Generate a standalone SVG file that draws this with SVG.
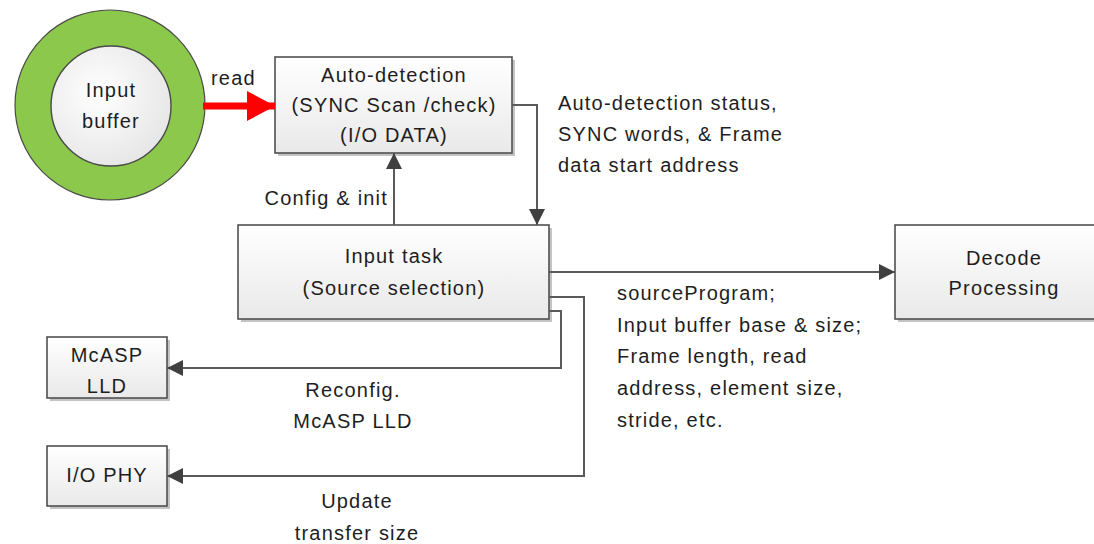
<svg xmlns="http://www.w3.org/2000/svg" width="1094" height="544" viewBox="0 0 1094 544">
<defs>
<linearGradient id="boxg" x1="0" y1="0" x2="0" y2="1">
<stop offset="0" stop-color="#ffffff"/>
<stop offset="1" stop-color="#e9e9e9"/>
</linearGradient>
<radialGradient id="inner" cx="0.4" cy="0.4" r="0.7">
<stop offset="0" stop-color="#ffffff"/>
<stop offset="1" stop-color="#e4e4e4"/>
</radialGradient>
<marker id="ah" markerWidth="16" markerHeight="16" viewBox="0 0 16 16" refX="16" refY="8" orient="auto" markerUnits="userSpaceOnUse">
<path d="M0,0 L16,8 L0,16 Z" fill="#404040"/>
</marker>
<marker id="ahr" markerWidth="28" markerHeight="30" viewBox="0 0 28 30" refX="28" refY="15" orient="auto" markerUnits="userSpaceOnUse">
<path d="M0,0 L28,15 L0,30 Z" fill="#ff0000"/>
</marker>
</defs>
<style>
.t{font-family:"Liberation Sans",Arial,sans-serif;font-size:20px;fill:#1e1e1e;letter-spacing:1.2px}
.c{text-anchor:middle}
.box{fill:url(#boxg);stroke:#505050;stroke-width:1.6}
.sh{fill:#c4c4c4}
.ln{fill:none;stroke:#5a5a5a;stroke-width:2}
</style>
<rect width="1094" height="544" fill="#ffffff"/>

<g id="input-buffer">
<circle cx="110" cy="105" r="95" fill="#8cc84b" stroke="#4a4a4a" stroke-width="1.2"/>
<circle cx="111" cy="106" r="60" fill="url(#inner)" stroke="#4a4a4a" stroke-width="1.4"/>
<text class="t c" x="111" y="97">Input</text>
<text class="t c" x="111" y="128">buffer</text>
</g>

<g id="auto-detection">
<rect class="sh" x="278" y="60" width="237" height="96"/>
<rect class="box" x="275" y="57" width="237" height="96"/>
<text class="t c" x="394" y="82">Auto-detection</text>
<text class="t c" x="394" y="112">(SYNC Scan /check)</text>
<text class="t c" x="394" y="142">(I/O DATA)</text>
</g>

<g id="input-task">
<rect class="sh" x="241" y="228" width="311" height="94"/>
<rect class="box" x="238" y="225" width="311" height="94"/>
<text class="t c" x="394" y="263">Input task</text>
<text class="t c" x="394" y="295">(Source selection)</text>
</g>

<g id="decode">
<rect class="sh" x="898" y="228" width="220" height="94"/>
<rect class="box" x="895" y="225" width="220" height="94"/>
<text class="t c" x="1004" y="265">Decode</text>
<text class="t c" x="1004" y="295">Processing</text>
</g>

<g id="mcasp">
<rect class="sh" x="50" y="340" width="120" height="61"/>
<rect class="box" x="47" y="337" width="120" height="61"/>
<text class="t c" x="107" y="362">McASP</text>
<text class="t c" x="107" y="393">LLD</text>
</g>

<g id="io-phy">
<rect class="sh" x="50" y="449" width="120" height="60"/>
<rect class="box" x="47" y="446" width="120" height="60"/>
<text class="t c" x="107" y="482">I/O PHY</text>
</g>

<g id="connectors">
<line x1="203" y1="106" x2="275" y2="106" stroke="#ff0000" stroke-width="7" marker-end="url(#ahr)"/>
<path class="ln" d="M512,105 H537 V225" marker-end="url(#ah)"/>
<path class="ln" d="M394,225 V153" marker-end="url(#ah)"/>
<path class="ln" d="M549,272 H895" marker-end="url(#ah)"/>
<path class="ln" d="M549,311 H561 V368 H167" marker-end="url(#ah)"/>
<path class="ln" d="M549,297 H584 V476 H167" marker-end="url(#ah)"/>
</g>

<g id="labels">
<text class="t" x="211" y="85">read</text>
<text class="t" x="388" y="205" text-anchor="end">Config &amp; init</text>
<text class="t" x="558" y="110">Auto-detection status,</text>
<text class="t" x="558" y="141">SYNC words, &amp; Frame</text>
<text class="t" x="558" y="172">data start address</text>
<text class="t" x="617" y="300">sourceProgram;</text>
<text class="t" x="617" y="332">Input buffer base &amp; size;</text>
<text class="t" x="617" y="363">Frame length, read</text>
<text class="t" x="617" y="395">address, element size,</text>
<text class="t" x="617" y="427">stride, etc.</text>
<text class="t c" x="353" y="397">Reconfig.</text>
<text class="t c" x="353" y="428">McASP LLD</text>
<text class="t c" x="357" y="508">Update</text>
<text class="t c" x="357" y="540">transfer size</text>
</g>
</svg>
